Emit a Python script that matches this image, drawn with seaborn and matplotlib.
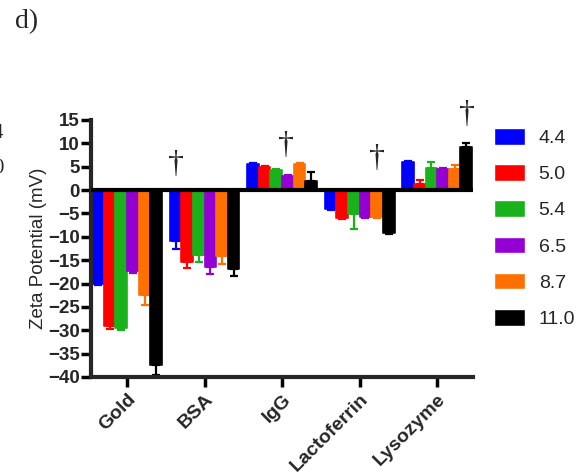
import matplotlib
matplotlib.use("Agg")
import matplotlib.pyplot as plt
import seaborn as sns
import pandas as pd
import numpy as np

# data
proteins = ["Gold", "BSA", "IgG", "Lactoferrin", "Lysozyme"]
ph_levels = ["4.4", "5.0", "5.4", "6.5", "8.7", "11.0"]
zeta = {
    "4.4":  [-20.0, -11.0, 5.5, -4.1, 6.0],
    "5.0":  [-29.0, -15.3, 5.0, -6.0, 1.2],
    "5.4":  [-29.5, -14.0, 4.3, -5.2, 4.7],
    "6.5":  [-17.3, -16.5, 3.1, -5.7, 4.5],
    "8.7":  [-22.4, -14.2, 5.6, -5.7, 4.4],
    "11.0": [-37.5, -16.8, 1.9, -9.1, 9.3],
}
zeta_err = {
    "4.4":  [0.3, 1.6, 0.2, 0.2, 0.2],
    "5.0":  [0.7, 1.4, 0.2, 0.2, 1.0],
    "5.4":  [0.5, 1.4, 0.2, 3.1, 1.2],
    "6.5":  [0.5, 1.4, 0.2, 0.2, 0.2],
    "8.7":  [2.3, 1.6, 0.2, 0.3, 1.0],
    "11.0": [2.0, 1.5, 2.0, 0.2, 0.7],
}
colors = ["#0000FF", "#FF0000", "#1AB21A", "#9400D3", "#FF7000", "#000000"]
# dagger marks: (group position, y value)
dagger_x = [0.63, 2.05, 3.22, 4.38]
dagger_y = [5.5, 9.6, 6.8, 16.2]

rows = []
for ph in ph_levels:
    for p, v in zip(proteins, zeta[ph]):
        rows.append({"protein": p, "pH": ph, "zeta": v})
df = pd.DataFrame(rows)

sns.set_style("ticks")
plt.rcParams["font.family"] = ["Liberation Sans", "DejaVu Sans"]

fig = plt.figure(figsize=(5.88, 4.76), dpi=100)
ax = fig.add_axes([0.1548, 0.208, 0.65, 0.54])

sns.barplot(data=df, x="protein", y="zeta", hue="pH", order=proteins,
            hue_order=ph_levels, palette=colors, width=0.9, errorbar=None,
            saturation=1, ax=ax)

bar_groups = list(ax.containers)
for i, cont in enumerate(bar_groups):
    ph = ph_levels[i]
    for bar, err in zip(cont, zeta_err[ph]):
        bar.set_edgecolor(colors[i])
        bar.set_linewidth(1.2)
        bar.set_joinstyle("round")
        xc = bar.get_x() + bar.get_width() / 2
        h = bar.get_height()
        lo = [[err], [0]] if h < 0 else [[0], [err]]
        ax.errorbar(xc, h, yerr=lo, fmt="none", ecolor=colors[i],
                    elinewidth=1.6, capsize=3, capthick=1.6, zorder=1)

ax.axhline(0, color="black", lw=3, zorder=5)

for x, y in zip(dagger_x, dagger_y):
    ax.text(x, y, "\u2020", ha="center", va="center", fontsize=23,
            family="Liberation Serif")

ax.set_xlim(-0.465, 4.465)
ax.set_ylim(-40, 15)
ax.set_yticks(np.arange(-40, 16, 5))
ax.set_xlabel("")
ax.set_ylabel("Zeta Potential (mV)", fontsize=13.5, labelpad=1)
for lab in ax.get_yticklabels():
    lab.set_fontweight("bold")
    lab.set_fontsize(13.5)
ax.set_xticks(range(len(proteins)))
ax.set_xticklabels(proteins, rotation=45, ha="right", rotation_mode="anchor",
                   fontsize=14, fontweight="bold")
ax.tick_params(axis="both", width=2.5, length=7, color="black", pad=1)
ax.tick_params(axis="x", pad=3)
sns.despine(ax=ax)
ax.spines["left"].set_linewidth(3)
ax.spines["bottom"].set_linewidth(3)

leg = ax.legend(loc="upper left", bbox_to_anchor=(494 / 588, 1 - 128 / 476),
                bbox_transform=fig.transFigure, frameon=False, borderpad=0,
                borderaxespad=0, fontsize=14, handlelength=1.6,
                handleheight=0.95, labelspacing=0.88, handletextpad=0.7)

fig.text(0.025, 0.98, "d)", fontsize=20, family="Liberation Serif",
         ha="left", va="top")
fig.text(-0.012, 0.72, "4", fontsize=15, family="Liberation Serif", va="center")
fig.text(-0.012, 0.645, "0", fontsize=15, family="Liberation Serif", va="center")

fig.savefig("out.png", dpi=100)
